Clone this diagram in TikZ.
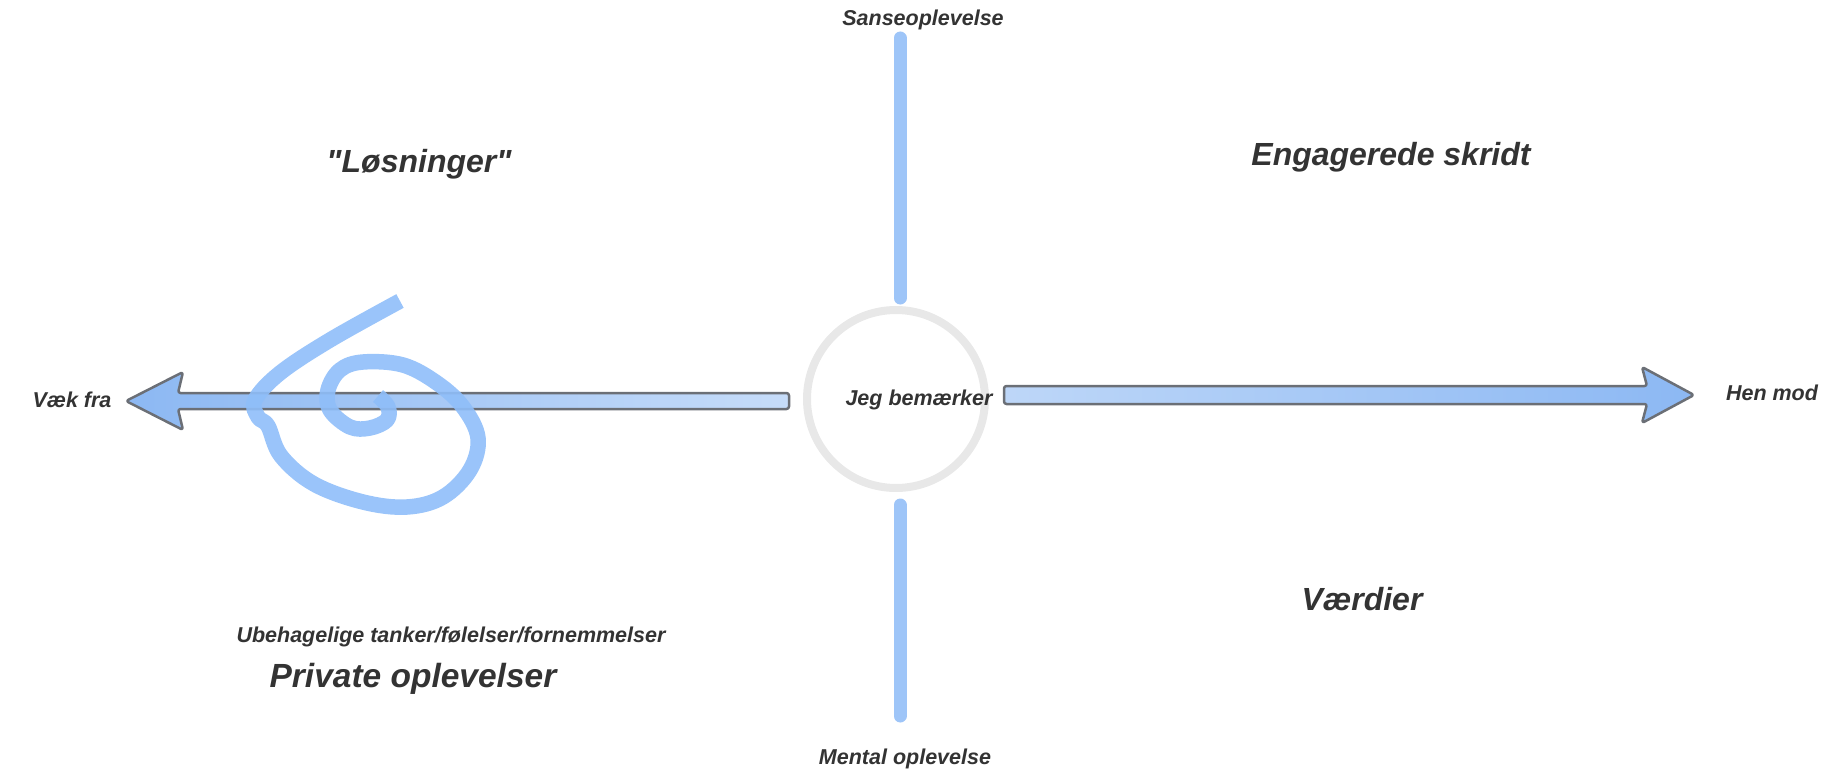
\documentclass[tikz,border=0pt]{standalone}
\usepackage{fontspec}
\setmainfont{Liberation Sans}
\definecolor{txt}{HTML}{333333}
\definecolor{axisblue}{HTML}{9EC5F8}
\definecolor{spiralblue}{HTML}{8FBEF9}
\definecolor{arrdark}{HTML}{8CB8F3}
\definecolor{arrlight}{HTML}{C6DCF9}
\definecolor{arredge}{HTML}{6B6F76}
\definecolor{ringgray}{HTML}{E8E8E8}
\tikzset{
  lbl/.style={text=txt, inner sep=0pt, font=\fontsize{21.5}{26}\selectfont\bfseries\itshape},
  biglbl/.style={text=txt, inner sep=0pt, font=\fontsize{32}{38}\selectfont\bfseries\itshape},
  hugelbl/.style={text=txt, inner sep=0pt, font=\fontsize{33.5}{40}\selectfont\bfseries\itshape},
  axisline/.style={draw=axisblue, line width=13pt, line cap=round},
  bigarrow/.style={draw=arredge, line width=2.5pt, rounded corners=2.5pt, line join=round},
  spiralline/.style={draw=spiralblue, line width=15.5pt, line cap=butt, line join=round, opacity=0.9},
  ring/.style={circle, draw=ringgray, line width=8pt, minimum size=178pt, inner sep=0pt}
}
\begin{document}
\begin{tikzpicture}[x=1pt,y=-1pt]
\useasboundingbox (0,0) rectangle (1847,773);
% center ring
\node[ring] (ring) at (896,399) {};
% vertical axis
\coordinate (vtop) at (900,38);
\coordinate (vtopend) at (900,298);
\coordinate (vbot) at (900,505);
\coordinate (vbotend) at (900,716);
\draw[axisline] (vtop) -- (vtopend);
\draw[axisline] (vbot) -- (vbotend);
% left arrow
\shadedraw[bigarrow, left color=arrdark, right color=arrlight]
  (126,401) -- (183,372) -- (178,393) -- (789,393) -- (789,409) -- (178,409) -- (183,430) -- cycle;
% right arrow
\shadedraw[bigarrow, left color=arrlight!85!arrdark, right color=arrdark]
  (1004,386) -- (1647,386) -- (1642,367) -- (1694,395) -- (1642,423) -- (1647,404) -- (1004,404) -- cycle;
% spiral
\draw[spiralline] plot[smooth, tension=0.6] coordinates {
  (400,301) (330,340) (280,373) (255,400) (258,417) (268,426) (281,456)
  (314,484) (363,502) (407,507) (443,497) (470,470) (478,438) (463,407)
  (437,383) (403,365) (363,362) (340,370) (328,390) (330,410) (350,427)
  (370,428) (387,420) (388,407) (378,396)};
% labels
\node[lbl] (center) at (919,400) {Jeg bemærker};
\node[lbl] (top) at (923,20) {Sanseoplevelse};
\node[lbl] (bottom) at (905,759) {Mental oplevelse};
\node[lbl] (left) at (72,400) {Væk fra};
\node[lbl] (right) at (1772,393) {Hen mod};
\node[biglbl] (losn) at (419,164) {\textquotedbl Løsninger\textquotedbl};
\node[biglbl] (eng) at (1391,157) {Engagerede skridt};
\node[biglbl] (vaerd) at (1362,599) {Værdier};
\node[lbl] (ubeh) at (451,637) {Ubehagelige tanker/følelser/fornemmelser};
\node[hugelbl] (priv) at (413,679) {Private oplevelser};
\end{tikzpicture}
\end{document}
